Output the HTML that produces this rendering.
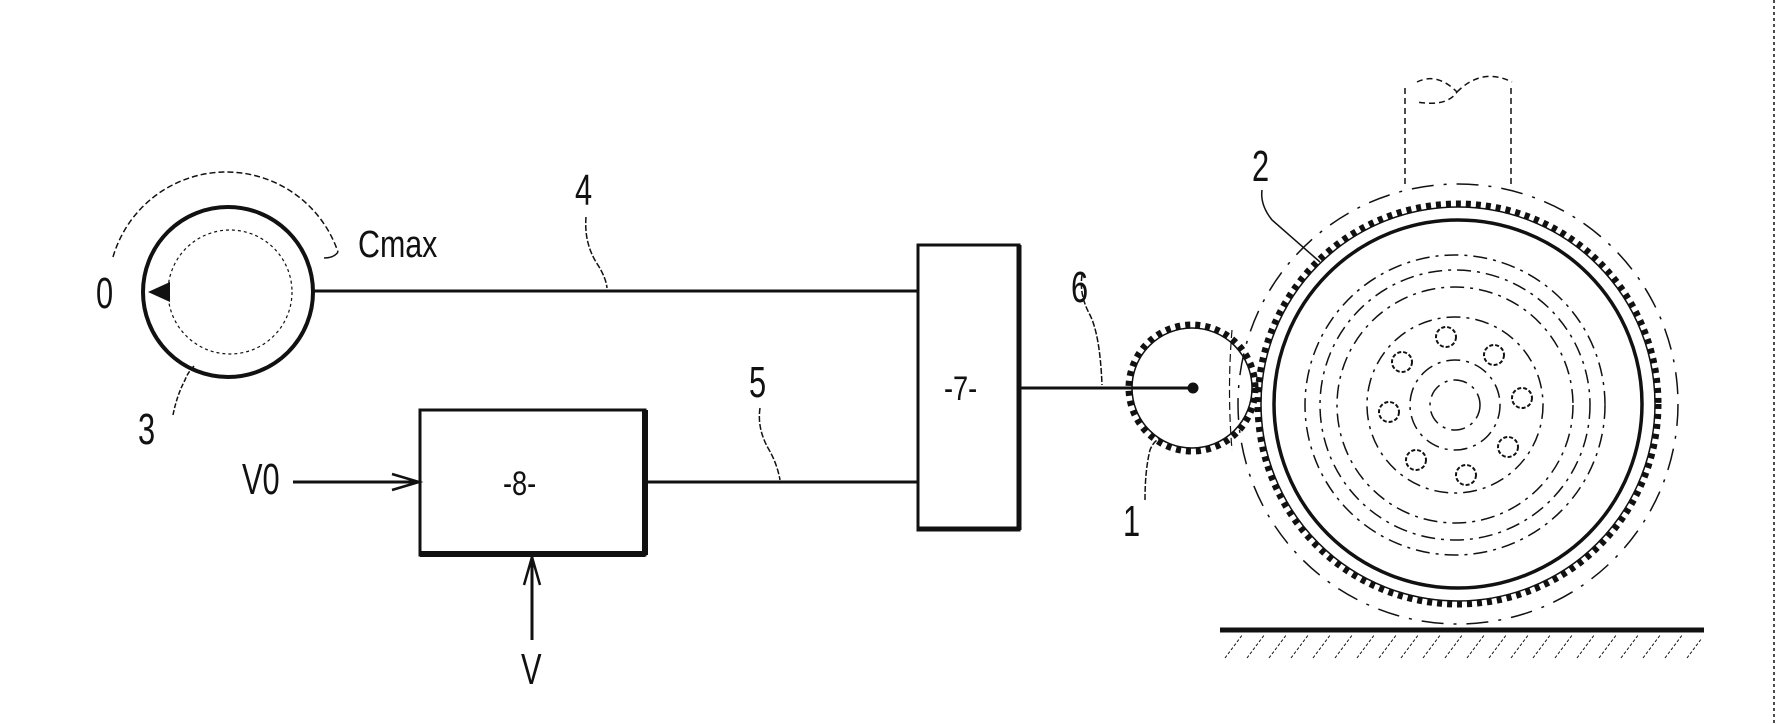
<!DOCTYPE html>
<html><head><meta charset="utf-8"><style>
html,body{margin:0;padding:0;background:#fff;}
svg{display:block;}
text{font-family:"Liberation Sans",sans-serif;fill:#111;}
</style></head><body>
<svg width="1776" height="724" viewBox="0 0 1776 724" xmlns="http://www.w3.org/2000/svg">
<g stroke="#111" fill="none">
<circle cx="228" cy="292" r="85" stroke-width="4"/>
<circle cx="230" cy="292" r="62" stroke-width="1.2" stroke-dasharray="3 3"/>
<path d="M113 257 A118 118 0 0 1 338 252" stroke-width="1.5" stroke-dasharray="6 3"/>
<path d="M338 252 q-4 6 -14 6" stroke-width="1.5"/>
<polygon points="148,292 170,282 170,302" fill="#111" stroke="none"/>
<path d="M173 415 q4 -20 12 -35 q3 -8 9 -14" stroke-width="1.5" stroke-dasharray="5 2"/>
<line x1="313" y1="291" x2="918" y2="291" stroke-width="3"/>
<path d="M586 217 q-2 25 10 45 q10 15 11 26" stroke-width="1.5" stroke-dasharray="6 2"/>
<rect x="918" y="245" width="101" height="285" stroke-width="3"/>
<line x1="1019" y1="245" x2="1019" y2="530" stroke-width="5"/>
<line x1="918" y1="529" x2="1019" y2="529" stroke-width="5"/>
<line x1="645" y1="482" x2="918" y2="482" stroke-width="3"/>
<path d="M760 408 q-3 20 8 40 q9 15 12 32" stroke-width="1.5" stroke-dasharray="6 2"/>
<rect x="420" y="410" width="225" height="145" stroke-width="3"/>
<line x1="645" y1="410" x2="645" y2="555" stroke-width="6"/>
<line x1="420" y1="554" x2="645" y2="554" stroke-width="6"/>
<line x1="293" y1="482" x2="419" y2="482" stroke-width="3"/>
<path d="M392 474 L419 482 L392 490" stroke-width="2.5"/>
<line x1="532" y1="640" x2="532" y2="557" stroke-width="3"/>
<path d="M524 585 L532 557 L540 585" stroke-width="2.5"/>
<line x1="1019" y1="388" x2="1192" y2="388" stroke-width="3"/>
<circle cx="1193" cy="388" r="5" fill="#111"/>
<circle cx="1192" cy="388" r="63" stroke-width="7" stroke-dasharray="5 5"/>
<circle cx="1192" cy="388" r="60" stroke-width="1.5"/>
<path d="M1082 275 q-3 20 8 40 q10 20 12 70" stroke-width="1.5" stroke-dasharray="6 2"/>
<path d="M1145 500 q0 -30 5 -50 q3 -8 10 -12" stroke-width="1.5" stroke-dasharray="6 2"/>
<path d="M1232 330 q-5 60 0 120" stroke-width="1.2" stroke-dasharray="8 4"/>
<circle cx="1458" cy="404" r="220" stroke-width="1.5" stroke-dasharray="22 10 3 10"/>
<circle cx="1458" cy="404" r="200" stroke-width="7" stroke-dasharray="5 5"/>
<circle cx="1458" cy="404" r="197" stroke-width="1.5"/>
<circle cx="1458" cy="404" r="184" stroke-width="3.5"/>
<g stroke-width="1.5" stroke-dasharray="14 6 3 6">
<circle cx="1455" cy="405" r="150"/>
<circle cx="1455" cy="405" r="135"/>
<circle cx="1455" cy="405" r="118"/>
<circle cx="1455" cy="405" r="88"/>
<circle cx="1455" cy="405" r="45"/>
<circle cx="1455" cy="405" r="25"/>
</g>
<g stroke-width="2" stroke-dasharray="4 2">
<circle cx="1446" cy="337" r="10"/><circle cx="1494" cy="355" r="10"/>
<circle cx="1522" cy="398" r="10"/><circle cx="1508" cy="447" r="10"/>
<circle cx="1466" cy="475" r="10"/><circle cx="1416" cy="460" r="10"/>
<circle cx="1389" cy="412" r="10"/><circle cx="1402" cy="362" r="10"/>
</g>
<g stroke-width="1.5" stroke-dasharray="6 4">
<line x1="1405" y1="88" x2="1405" y2="187"/>
<line x1="1511" y1="88" x2="1511" y2="187"/>
<path d="M1417 82 q20 -10 40 10 q-10 15 -40 10 M1457 92 q25 -25 55 -10"/>
</g>
<path d="M1262 190 q-2 15 10 30 q25 22 48 42" stroke-width="1.5"/>
<line x1="1220" y1="630" x2="1704" y2="630" stroke-width="5"/>
<g stroke-width="1" stroke-dasharray="3 2">
<path d="M1225 658 l18 -24 M1247 658 l18 -24 M1269 658 l18 -24 M1291 658 l18 -24 M1313 658 l18 -24 M1335 658 l18 -24 M1357 658 l18 -24 M1379 658 l18 -24 M1401 658 l18 -24 M1423 658 l18 -24 M1445 658 l18 -24 M1467 658 l18 -24 M1489 658 l18 -24 M1511 658 l18 -24 M1533 658 l18 -24 M1555 658 l18 -24 M1577 658 l18 -24 M1599 658 l18 -24 M1621 658 l18 -24 M1643 658 l18 -24 M1665 658 l18 -24 M1687 658 l15 -20"/>
</g>
<line x1="1774" y1="0" x2="1774" y2="724" stroke-width="1.5" stroke-dasharray="3 3"/>
</g>
<g font-size="44">
<text x="96" y="308" transform="translate(96,308) scale(0.7,1) translate(-96,-308)">0</text>
<text x="358" y="257" font-size="38" transform="translate(358,257) scale(0.8,1) translate(-358,-257)">Cmax</text>
<text x="138" y="444" transform="translate(138,444) scale(0.7,1) translate(-138,-444)">3</text>
<text x="575" y="205" transform="translate(575,205) scale(0.7,1) translate(-575,-205)">4</text>
<text x="749" y="397" transform="translate(749,397) scale(0.7,1) translate(-749,-397)">5</text>
<text x="1071" y="302" transform="translate(1071,302) scale(0.7,1) translate(-1071,-302)">6</text>
<text x="1123" y="536" transform="translate(1123,536) scale(0.7,1) translate(-1123,-536)">1</text>
<text x="1252" y="181" transform="translate(1252,181) scale(0.7,1) translate(-1252,-181)">2</text>
<text x="242" y="494" transform="translate(242,494) scale(0.7,1) translate(-242,-494)">V0</text>
<text x="521" y="684" transform="translate(521,684) scale(0.7,1) translate(-521,-684)">V</text>
<text x="944" y="400" font-size="34" transform="translate(944,400) scale(0.8,1) translate(-944,-400)">-7-</text>
<text x="503" y="495" font-size="34" transform="translate(503,495) scale(0.8,1) translate(-503,-495)">-8-</text>
</g>
</svg>
</body></html>
